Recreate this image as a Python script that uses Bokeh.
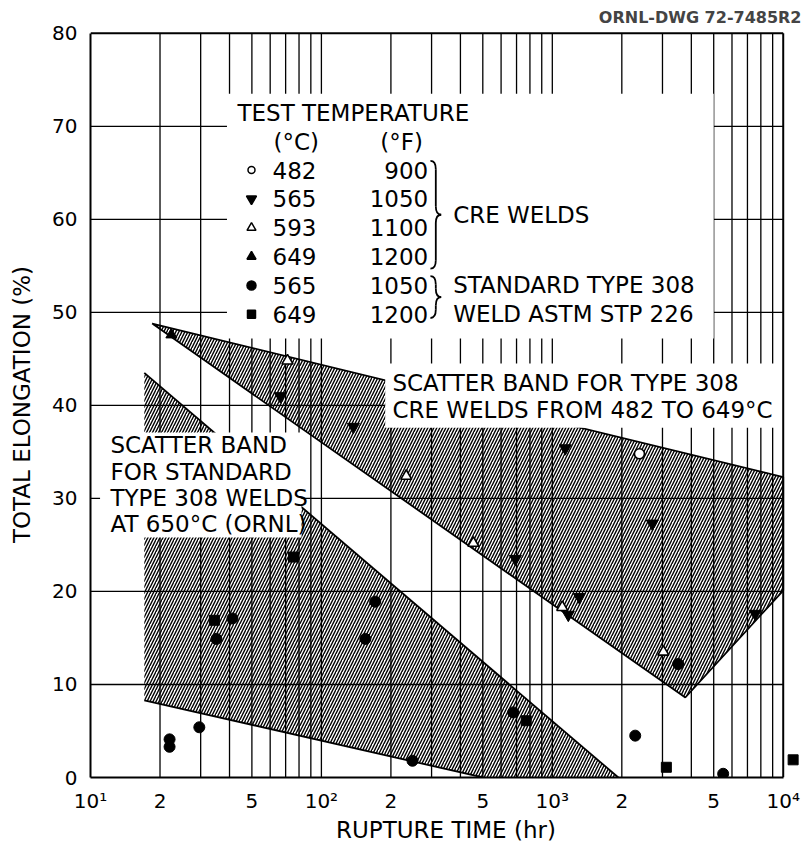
from bokeh.plotting import figure
from bokeh.models import FixedTicker, Range1d
from bokeh.core.properties import value
from bokeh.embed import file_html
from bokeh.resources import INLINE

FONT = "DejaVu Sans"

# ---------------- data (rupture time in hr, total elongation in %) ----------------
cre482_hr = [2384]
cre482_el = [34.8]
cre565_hr = [66.4, 137.6, 692, 1138, 1173, 1309, 2711, 7565]
cre565_el = [41.0, 37.7, 23.5, 35.4, 17.5, 19.4, 27.3, 17.6]
cre593_hr = [71.3, 233, 455, 1104, 3027]
cre593_el = [44.8, 32.4, 25.2, 18.3, 13.5]
cre649_hr = [22.4]
cre649_el = [47.6]
std565_hr = [22.0, 22.0, 29.6, 35.1, 41.2, 155, 171, 248, 677, 2286, 3508, 5495]
std565_el = [4.1, 3.3, 5.4, 14.9, 17.1, 14.9, 18.9, 1.8, 7.0, 4.5, 12.2, 0.4]
std649_hr = [34.4, 75.7, 771, 3118, 11040]
std649_el = [16.9, 23.7, 6.1, 1.1, 1.9]

# scatter bands
cre_band_hr = [18.5, 10000, 10000, 3767]
cre_band_el = [48.8, 32.3, 20.1, 8.6]
ornl_band_hr = [17.1, 1932, 502, 17.1]
ornl_band_el = [43.5, 0.0, 0.0, 8.3]
ornl_edge_hr = [[17.1, 1932], [17.1, 502]]
ornl_edge_el = [[43.5, 0.0], [8.3, 0.0]]

# axes
x_major = [10.0, 20.0, 50.0, 100.0, 200.0, 500.0, 1000.0, 2000.0, 5000.0, 10000.0]
x_major_labels = ["10¹", "2", "5", "10²", "2", "5", "10³", "2", "5", "10⁴"]
x_grid = [20, 30, 40, 50, 60, 70, 80, 90, 100,
          200, 300, 400, 500, 600, 700, 800, 900, 1000,
          2000, 3000, 4000, 5000, 6000, 7000, 8000, 9000]
y_major = [0, 10, 20, 30, 40, 50, 60, 70, 80]
y_grid = [10, 20, 30, 40, 50, 60, 70]

# legend table
leg_title = "TEST TEMPERATURE"
leg_c = ["482", "565", "593", "649", "565", "649"]
leg_f = ["900", "1050", "1100", "1200", "1050", "1200"]
leg_marker = ["circle", "inverted_triangle", "triangle", "triangle", "circle", "square"]
leg_fill = ["white", "black", "white", "black", "black", "black"]
leg_size = [7, 10, 9, 9, 9, 8]
leg_rows_el = [65.3, 62.2, 59.1, 56.0, 52.9, 49.8]

cre_label = ["SCATTER BAND FOR TYPE 308", "CRE WELDS FROM 482 TO 649°C"]
ornl_label = ["SCATTER BAND", "FOR STANDARD", "TYPE 308 WELDS", "AT 650°C  (ORNL)"]

# ---------------- figure ----------------
p = figure(x_axis_type="log", x_range=Range1d(10, 12000), y_range=Range1d(0, 80.2),
           frame_width=711, frame_height=746,
           min_border_left=90, min_border_right=8, min_border_top=31, min_border_bottom=62,
           output_backend="svg", toolbar_location=None, title="ORNL-DWG 72-7485R2")
p.outline_line_color = None
p.grid.visible = False
p.background_fill_color = "white"
p.border_fill_color = "white"

p.title.align = "right"
p.title.text_font = FONT
p.title.text_font_size = "16px"
p.title.text_font_style = "bold"

# grid lines (bounded to the drawing box)
p.segment(x0=x_grid, y0=[0] * len(x_grid), x1=x_grid, y1=[80] * len(x_grid),
          line_color="black", line_width=1.3)
p.segment(x0=[10] * len(y_grid), y0=y_grid, x1=[10000] * len(y_grid), y1=y_grid,
          line_color="black", line_width=1.3)

# hatched scatter bands
HATCH = dict(fill_color="white", fill_alpha=0.0, hatch_pattern="/", hatch_scale=6,
             hatch_weight=1.4, hatch_color="black")
p.patch(cre_band_hr, cre_band_el, line_color="black", line_width=1.8, **HATCH)
p.patch(ornl_band_hr, ornl_band_el, line_color=None, **HATCH)
p.multi_line(ornl_edge_hr, ornl_edge_el, line_color="black", line_width=1.8)

# white areas behind the lettering
p.quad(left=[39, 189, 11], right=[5000, 10000, 82],
       bottom=[47.2, 37.6, 25.8], top=[73.5, 44.5, 37.1],
       fill_color="white", line_color=None)

# top and right border of the chart box
p.segment(x0=[10, 10000], y0=[80, 0], x1=[10000, 10000], y1=[80, 80],
          line_color="black", line_width=2)

# data points
p.scatter(cre482_hr, cre482_el, marker="circle", size=10, fill_color="white",
          line_color="black", line_width=1.6)
p.scatter(cre565_hr, cre565_el, marker="inverted_triangle", size=12, fill_color="black",
          line_color="black")
p.scatter(cre593_hr, cre593_el, marker="triangle", size=11, fill_color="white",
          line_color="black", line_width=1.6)
p.scatter(cre649_hr, cre649_el, marker="triangle", size=11, fill_color="black",
          line_color="black")
p.scatter(std565_hr, std565_el, marker="circle", size=11, fill_color="black",
          line_color="black")
p.scatter(std649_hr, std649_el, marker="square", size=10, fill_color="black",
          line_color="black")

TXT = dict(text_font=value(FONT), text_font_size="23px", text_color="black",
           text_baseline="middle")

# legend
p.text(x=[43.3], y=[71.4], text=[leg_title], **TXT)
p.text(x=[62.0, 180.0], y=[68.3, 68.3], text=["(°C)", "(°F)"], **TXT)
for mk, fc, sz, yy in zip(leg_marker, leg_fill, leg_size, leg_rows_el):
    p.scatter([49.8], [yy], marker=mk, size=sz, fill_color=fc, line_color="black",
              line_width=1.5)
p.text(x=[61.4] * 6, y=leg_rows_el, text=leg_c, text_align="left", **TXT)
p.text(x=[290.0] * 6, y=leg_rows_el, text=leg_f, text_align="right", **TXT)

# braces
bx = 296.6
f = 1.055
xs = bx * f
xt = bx * f * f
r = 0.9
brace_spans = [(66.3, 54.7), (53.9, 49.4)]
q_x0, q_y0, q_x1, q_y1, q_cx, q_cy = [], [], [], [], [], []
s_x0, s_y0, s_x1, s_y1 = [], [], [], []
for yt, yb in brace_spans:
    ym = (yt + yb) / 2
    q_x0 += [bx, xs, xt, xs]
    q_y0 += [yt, ym + r, ym, yb + r]
    q_x1 += [xs, xt, xs, bx]
    q_y1 += [yt - r, ym, ym - r, yb]
    q_cx += [xs, xs, xs, xs]
    q_cy += [yt, ym, ym, yb]
    s_x0 += [xs, xs]
    s_y0 += [yt - r, ym - r]
    s_x1 += [xs, xs]
    s_y1 += [ym + r, yb + r]
p.quadratic(x0=q_x0, y0=q_y0, x1=q_x1, y1=q_y1, cx=q_cx, cy=q_cy,
            line_color="black", line_width=1.8)
p.segment(x0=s_x0, y0=s_y0, x1=s_x1, y1=s_y1, line_color="black", line_width=1.8)

p.text(x=[372.0], y=[60.5], text=["CRE WELDS"], **TXT)
p.text(x=[372.0, 372.0], y=[52.9, 49.8], text=["STANDARD TYPE 308", "WELD ASTM STP 226"], **TXT)

# band labels
p.text(x=[203.0, 203.0], y=[42.4, 39.5], text=cre_label, **TXT)
p.text(x=[12.2] * 4, y=[35.7, 32.8, 30.0, 27.2], text=ornl_label, **TXT)

# axes
p.xaxis.ticker = FixedTicker(ticks=x_major)
p.xaxis.major_label_overrides = dict(zip(x_major, x_major_labels))
p.xaxis.bounds = (10, 10000)
p.yaxis.ticker = FixedTicker(ticks=y_major)
p.yaxis.bounds = (0, 80)
for ax in (p.xaxis[0], p.yaxis[0]):
    ax.axis_line_width = 2
    ax.axis_line_color = "black"
    ax.major_tick_line_color = None
    ax.minor_tick_line_color = None
    ax.major_tick_out = 0
    ax.major_tick_in = 0
    ax.major_label_text_font = FONT
    ax.major_label_text_font_size = "20px"
    ax.major_label_text_color = "black"
    ax.axis_label_text_font = FONT
    ax.axis_label_text_font_size = "23px"
    ax.axis_label_text_font_style = "normal"
    ax.axis_label_text_color = "black"
p.xaxis.axis_label = "RUPTURE TIME (hr)"
p.yaxis.axis_label = "TOTAL ELONGATION (%)"
p.xaxis.major_label_standoff = 11
p.xaxis.axis_label_standoff = 1
p.yaxis.major_label_standoff = 13
p.yaxis.axis_label_standoff = 14

open("out.html", "w").write(file_html(p, INLINE))
